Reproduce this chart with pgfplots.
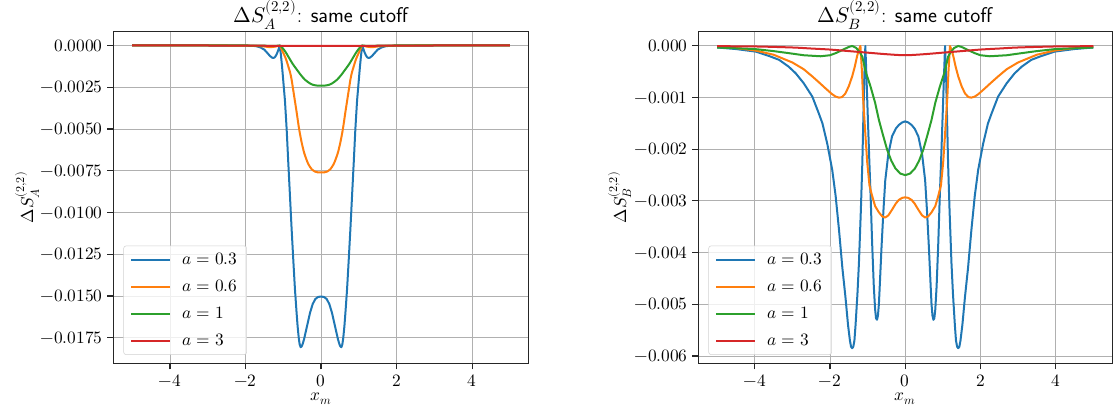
\documentclass[border=0pt]{standalone}
\usepackage{unicode-math}
\usepackage{pgfplots}
\pgfplotsset{compat=1.18}
\definecolor{tabblue}{HTML}{1F77B4}
\definecolor{taborange}{HTML}{FF7F0E}
\definecolor{tabgreen}{HTML}{2CA02C}
\definecolor{tabred}{HTML}{D62728}
\definecolor{gridgray}{HTML}{B0B0B0}
\pgfplotsset{
  mystyle/.style={
    scale only axis,
    width=311.5pt, height=249pt,
    xmin=-5.5, xmax=5.5,
    xtick={-4,-2,0,2,4},
    grid=major,
    major grid style={gridgray, line width=0.7pt},
    axis line style={black!85, line width=0.8pt},
    tick style={black!85, line width=0.8pt},
    tick align=outside,
    major tick length=4.5pt,
    xtick pos=bottom, ytick pos=left,
    scaled y ticks=false,
    tick label style={font=\fontsize{13}{15}\selectfont},
    xticklabel style={inner sep=1pt, yshift=-2.8pt},
    every axis title/.style={at={([yshift=6.4pt]axis description cs:0.5,1)}, anchor=base, font=\fontsize{16}{19}\selectfont},
    every axis x label/.style={at={([yshift=-27.8pt]axis description cs:0.5,0)}, anchor=base, inner sep=1pt, font=\fontsize{13}{15}\selectfont},
    xlabel={$x_m$},
    every axis plot/.append style={line width=1.5pt, line join=round},
    legend cell align=left,
    legend style={at={(0,0)}, anchor=south west, xshift=7.5pt, yshift=6.4pt,
      font=\fontsize{13}{15}\selectfont,
      draw=black!18, rounded corners=2pt, fill=white, fill opacity=0.8, text opacity=1,
      inner xsep=5pt, inner ysep=3.5pt, row sep=6pt,
      /tikz/every odd column/.append style={column sep=7pt}},
    legend image code/.code={\draw[#1, line width=1.5pt] (0pt,0pt) -- (29pt,0pt);},
  }
}
\begin{document}
\begin{tikzpicture}
\useasboundingbox (-85pt,-40.9pt) rectangle (749.75pt,272.6pt);
\begin{axis}[mystyle,
  at={(0pt,0pt)}, anchor=south west,
  ymin=-0.01904, ymax=0.00084,
  ytick={-0.0175,-0.015,-0.0125,-0.01,-0.0075,-0.005,-0.0025,0},
  yticklabel style={/pgf/number format/.cd, fixed, fixed zerofill, precision=4},
  title={$\Delta S_A^{(2,2)}$: \textsf{same cutoff}},
  ylabel={$\Delta S_A^{(2,2)}$},
  every axis y label/.style={at={([xshift=-64.5pt]axis description cs:0,0.5)}, anchor=center, rotate=90, font=\fontsize{13}{15}\selectfont},
]
\addplot[tabblue] coordinates {
(-5,0) (-3,0) (-2,-0.00001) (-1.8,-0.00002) (-1.7,-0.00005) (-1.6,-0.00012) (-1.5,-0.00025) (-1.42,-0.00045) (-1.35,-0.00063) (-1.3,-0.00072) (-1.26,-0.00075) (-1.22,-0.0007) (-1.18,-0.00055) (-1.14,-0.00033) (-1.11,-0.00013) (-1.09,0) (-1.06,-0.0006) (-1.03,-0.0013) (-1.0,-0.0021) (-0.955,-0.0033) (-0.91,-0.0050) (-0.867,-0.0070) (-0.82,-0.0091) (-0.778,-0.0110) (-0.73,-0.0130) (-0.69,-0.0146) (-0.65,-0.0159) (-0.62,-0.0168) (-0.59,-0.0175) (-0.565,-0.0179) (-0.54,-0.01806) (-0.515,-0.01803) (-0.49,-0.0179) (-0.45,-0.0176) (-0.40,-0.0171) (-0.34,-0.0165) (-0.29,-0.0160) (-0.22,-0.01548) (-0.15,-0.01518) (-0.08,-0.01506) (0,-0.01503)
(0.08,-0.01506) (0.15,-0.01518) (0.22,-0.01548) (0.29,-0.0160) (0.34,-0.0165) (0.40,-0.0171) (0.45,-0.0176) (0.49,-0.0179) (0.515,-0.01803) (0.54,-0.01806) (0.565,-0.0179) (0.59,-0.0175) (0.62,-0.0168) (0.65,-0.0159) (0.69,-0.0146) (0.73,-0.0130) (0.778,-0.0110) (0.82,-0.0091) (0.867,-0.0070) (0.91,-0.0050) (0.955,-0.0033) (1.0,-0.0021) (1.03,-0.0013) (1.06,-0.0006) (1.09,0) (1.11,-0.00013) (1.14,-0.00033) (1.18,-0.00055) (1.22,-0.0007) (1.26,-0.00075) (1.3,-0.00072) (1.35,-0.00063) (1.42,-0.00045) (1.5,-0.00025) (1.6,-0.00012) (1.7,-0.00005) (1.8,-0.00002) (2,-0.00001) (3,0) (5,0)
};
\addlegendentry{$a=0.3$}
\addplot[taborange, smooth, tension=0.4] coordinates {
(-5,0) (-2.5,0) (-1.8,-0.00002) (-1.5,-0.00006) (-1.35,-0.0001) (-1.22,-0.00007) (-1.12,-0.00002) (-1.08,-0.00003) (-1.03,-0.0003) (-0.955,-0.00066) (-0.91,-0.00093) (-0.867,-0.00125) (-0.82,-0.0016) (-0.778,-0.00205) (-0.72,-0.0029) (-0.645,-0.0040) (-0.58,-0.0050) (-0.513,-0.0058) (-0.45,-0.0064) (-0.39,-0.0068) (-0.336,-0.0071) (-0.25,-0.0074) (-0.16,-0.00755) (-0.08,-0.0076) (0,-0.0076)
(0.08,-0.0076) (0.16,-0.00755) (0.25,-0.0074) (0.336,-0.0071) (0.39,-0.0068) (0.45,-0.0064) (0.513,-0.0058) (0.58,-0.0050) (0.645,-0.0040) (0.72,-0.0029) (0.778,-0.00205) (0.82,-0.0016) (0.867,-0.00125) (0.91,-0.00093) (0.955,-0.00066) (1.03,-0.0003) (1.08,-0.00003) (1.12,-0.00002) (1.22,-0.00007) (1.35,-0.0001) (1.5,-0.00006) (1.8,-0.00002) (2.5,0) (5,0)
};
\addlegendentry{$a=0.6$}
\addplot[tabgreen, smooth, tension=0.4] coordinates {
(-5,0) (-2,0) (-1.5,-0.00001) (-1.3,-0.00003) (-1.18,-0.00002) (-1.09,0) (-1.0,-0.0002) (-0.93,-0.00042) (-0.867,-0.00066) (-0.75,-0.0011) (-0.645,-0.00143) (-0.53,-0.00178) (-0.424,-0.00205) (-0.3,-0.00226) (-0.204,-0.00236) (-0.1,-0.0024) (0,-0.0024)
(0.1,-0.0024) (0.204,-0.00236) (0.3,-0.00226) (0.424,-0.00205) (0.53,-0.00178) (0.645,-0.00143) (0.75,-0.0011) (0.867,-0.00066) (0.93,-0.00042) (1.0,-0.0002) (1.09,0) (1.18,-0.00002) (1.3,-0.00003) (1.5,-0.00001) (2,0) (5,0)
};
\addlegendentry{$a=1$}
\addplot[tabred] coordinates {
(-5,0) (-3,0) (-2,-0.00001) (-1,-0.00002) (0,-0.00003) (1,-0.00002) (2,-0.00001) (3,0) (5,0)
};
\addlegendentry{$a=3$}
\end{axis}
\begin{axis}[mystyle,
  at={(438.75pt,0pt)}, anchor=south west,
  width=310.3pt,
  ymin=-0.006145, ymax=0.00028,
  ytick={-0.006,-0.005,-0.004,-0.003,-0.002,-0.001,0},
  yticklabel style={/pgf/number format/.cd, fixed, fixed zerofill, precision=3},
  title={$\Delta S_B^{(2,2)}$: \textsf{same cutoff}},
  ylabel={$\Delta S_B^{(2,2)}$},
  every axis y label/.style={at={([xshift=-59pt]axis description cs:0,0.5)}, anchor=center, rotate=90, font=\fontsize{13}{15}\selectfont},
]
\addplot[tabblue] coordinates {
(-5,-0.00003) (-4.5,-0.00006) (-3.97,-0.00011) (-3.6,-0.0002) (-3.35,-0.00027) (-3.1,-0.0004) (-2.91,-0.00053) (-2.7,-0.00072) (-2.47,-0.00098) (-2.3,-0.0013) (-2.2,-0.0015) (-2.07,-0.0019) (-1.94,-0.0024) (-1.85,-0.0029) (-1.76,-0.00356) (-1.67,-0.0043) (-1.59,-0.00485) (-1.52,-0.0054) (-1.47,-0.0057) (-1.44,-0.00582) (-1.41,-0.00585) (-1.38,-0.00582) (-1.35,-0.0057) (-1.32,-0.0054) (-1.27,-0.0048) (-1.23,-0.0042) (-1.18,-0.0032) (-1.14,-0.00227) (-1.09,-0.00066) (-1.06,0) (-1.03,-0.0006) (-1.0,-0.00125) (-0.96,-0.0021) (-0.92,-0.0029) (-0.88,-0.0038) (-0.835,-0.00465) (-0.8,-0.0051) (-0.775,-0.00527) (-0.75,-0.0053) (-0.725,-0.00522) (-0.7,-0.0050) (-0.68,-0.0047) (-0.63,-0.0039) (-0.58,-0.0032) (-0.53,-0.0026) (-0.45,-0.0021) (-0.35,-0.00175) (-0.25,-0.0016) (-0.17,-0.00153) (-0.08,-0.00148) (0,-0.00146)
(0.08,-0.00148) (0.17,-0.00153) (0.25,-0.0016) (0.35,-0.00175) (0.45,-0.0021) (0.53,-0.0026) (0.58,-0.0032) (0.63,-0.0039) (0.68,-0.0047) (0.7,-0.0050) (0.725,-0.00522) (0.75,-0.0053) (0.775,-0.00527) (0.8,-0.0051) (0.835,-0.00465) (0.88,-0.0038) (0.92,-0.0029) (0.96,-0.0021) (1.0,-0.00125) (1.03,-0.0006) (1.06,0) (1.09,-0.00066) (1.14,-0.00227) (1.18,-0.0032) (1.23,-0.0042) (1.27,-0.0048) (1.32,-0.0054) (1.35,-0.0057) (1.38,-0.00582) (1.41,-0.00585) (1.44,-0.00582) (1.47,-0.0057) (1.52,-0.0054) (1.59,-0.00485) (1.67,-0.0043) (1.76,-0.00356) (1.85,-0.0029) (1.94,-0.0024) (2.07,-0.0019) (2.2,-0.0015) (2.3,-0.0013) (2.47,-0.00098) (2.7,-0.00072) (2.91,-0.00053) (3.1,-0.0004) (3.35,-0.00027) (3.6,-0.0002) (3.97,-0.00011) (4.5,-0.00006) (5,-0.00003)
};
\addlegendentry{$a=0.3$}
\addplot[taborange] coordinates {
(-5,-0.00001) (-4.5,-0.00004) (-3.97,-0.00009) (-3.5,-0.00017) (-3.0,-0.00032) (-2.7,-0.00045) (-2.47,-0.00059) (-2.3,-0.0007) (-2.12,-0.00082) (-1.95,-0.00093) (-1.85,-0.00098) (-1.76,-0.001) (-1.68,-0.00099) (-1.59,-0.00092) (-1.5,-0.00078) (-1.41,-0.00059) (-1.34,-0.0004) (-1.28,-0.0002) (-1.23,-0.00007) (-1.19,0) (-1.15,-0.0005) (-1.12,-0.001) (-1.06,-0.0017) (-1.01,-0.00225) (-0.95,-0.0027) (-0.88,-0.0029) (-0.8,-0.0031) (-0.7,-0.00322) (-0.61,-0.0033) (-0.53,-0.00332) (-0.45,-0.00328) (-0.35,-0.00317) (-0.25,-0.00305) (-0.17,-0.00298) (-0.08,-0.00294) (0,-0.00293)
(0.08,-0.00294) (0.17,-0.00298) (0.25,-0.00305) (0.35,-0.00317) (0.45,-0.00328) (0.53,-0.00332) (0.61,-0.0033) (0.7,-0.00322) (0.8,-0.0031) (0.88,-0.0029) (0.95,-0.0027) (1.01,-0.00225) (1.06,-0.0017) (1.12,-0.001) (1.15,-0.0005) (1.19,0) (1.23,-0.00007) (1.28,-0.0002) (1.34,-0.0004) (1.41,-0.00059) (1.5,-0.00078) (1.59,-0.00092) (1.68,-0.00099) (1.76,-0.001) (1.85,-0.00098) (1.95,-0.00093) (2.12,-0.00082) (2.3,-0.0007) (2.47,-0.00059) (2.7,-0.00045) (3.0,-0.00032) (3.5,-0.00017) (3.97,-0.00009) (4.5,-0.00004) (5,-0.00001)
};
\addlegendentry{$a=0.6$}
\addplot[tabgreen] coordinates {
(-5,-0.00003) (-4,-0.00006) (-3.5,-0.0001) (-3.09,-0.00014) (-2.7,-0.00018) (-2.25,-0.0002) (-2.0,-0.00018) (-1.85,-0.00014) (-1.7,-0.00009) (-1.59,-0.00005) (-1.5,-0.00002) (-1.41,0) (-1.3,-0.00004) (-1.2,-0.00013) (-1.14,-0.00021) (-1.05,-0.0005) (-0.92,-0.00079) (-0.8,-0.0011) (-0.70,-0.00143) (-0.6,-0.0017) (-0.48,-0.00201) (-0.37,-0.00222) (-0.26,-0.00237) (-0.13,-0.00247) (0,-0.0025)
(0.13,-0.00247) (0.26,-0.00237) (0.37,-0.00222) (0.48,-0.00201) (0.6,-0.0017) (0.70,-0.00143) (0.8,-0.0011) (0.92,-0.00079) (1.05,-0.0005) (1.14,-0.00021) (1.2,-0.00013) (1.3,-0.00004) (1.41,0) (1.5,-0.00002) (1.59,-0.00005) (1.7,-0.00009) (1.85,-0.00014) (2.0,-0.00018) (2.25,-0.0002) (2.7,-0.00018) (3.09,-0.00014) (3.5,-0.0001) (4,-0.00006) (5,-0.00003)
};
\addlegendentry{$a=1$}
\addplot[tabred, smooth] coordinates {
(-5,-0.000005) (-4,-0.00001) (-3,-0.00003) (-2.5,-0.00005) (-2,-0.00007) (-1.5,-0.0001) (-1,-0.00013) (-0.5,-0.00016) (0,-0.00018) (0.5,-0.00016) (1,-0.00013) (1.5,-0.0001) (2,-0.00007) (2.5,-0.00005) (3,-0.00003) (4,-0.00001) (5,-0.000005)
};
\addlegendentry{$a=3$}
\end{axis}
\end{tikzpicture}
\end{document}
